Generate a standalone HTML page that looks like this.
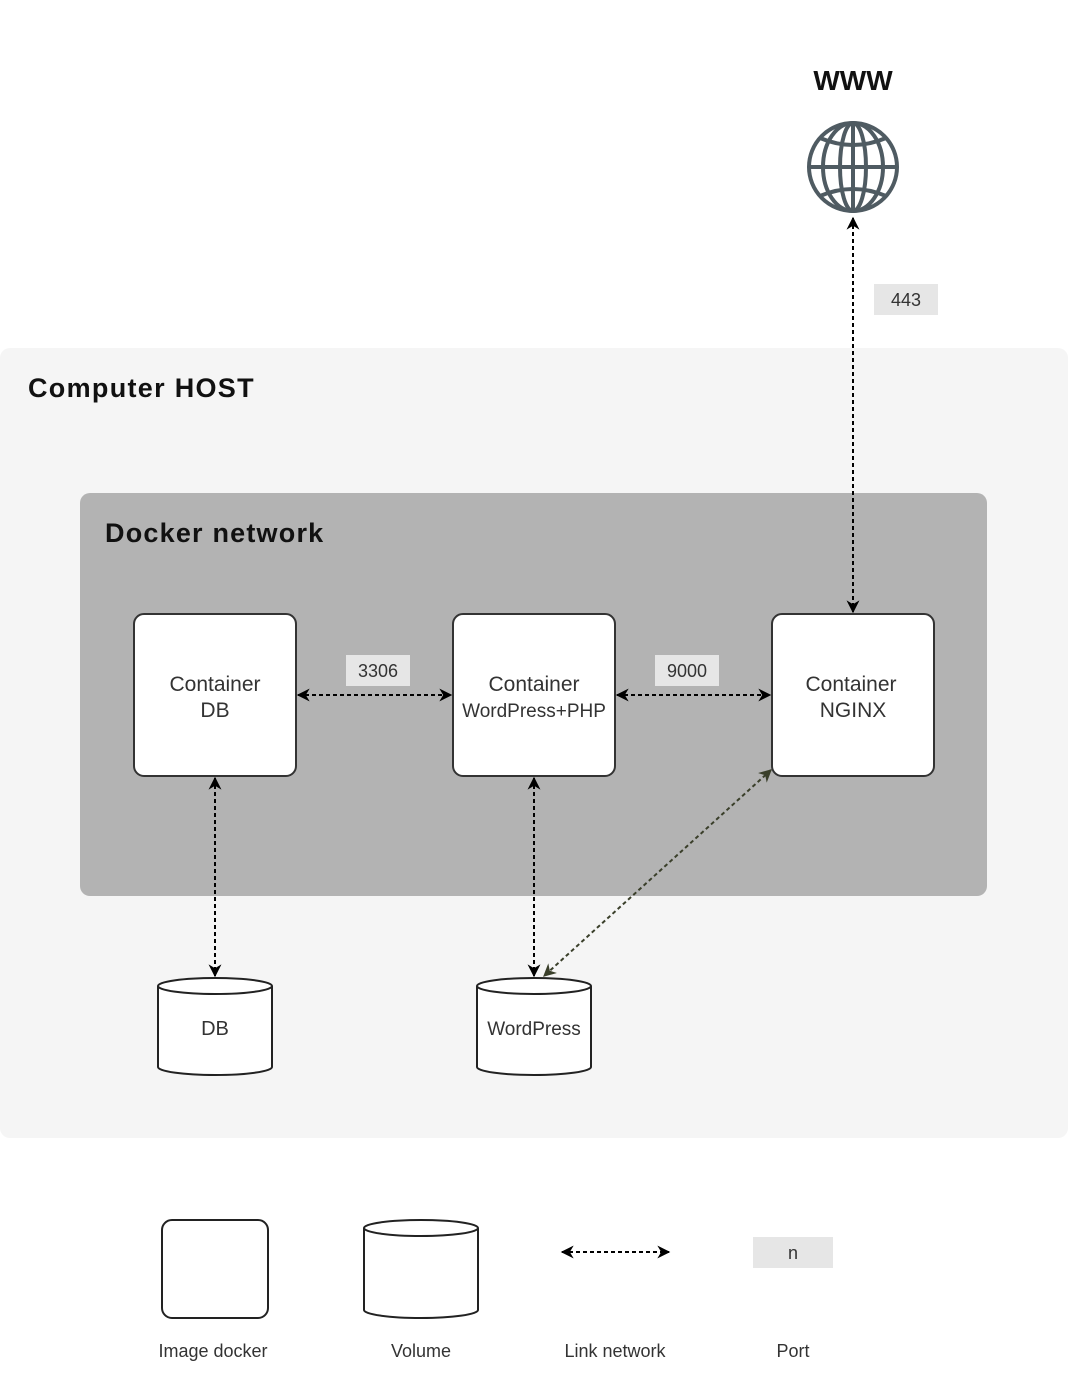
<!DOCTYPE html>
<html><head><meta charset="utf-8"><style>
html,body{margin:0;padding:0;background:#fff}
svg{display:block}
text{font-family:"Liberation Sans",sans-serif}
</style></head><body>
<svg width="1080" height="1392" viewBox="0 0 1080 1392" xmlns="http://www.w3.org/2000/svg">
<defs>
<marker id="a" viewBox="0 0 10 10" refX="9" refY="5" markerWidth="13" markerHeight="13" orient="auto-start-reverse" markerUnits="userSpaceOnUse">
<path d="M0,0 L10,5 L0,10 L3,5 z" fill="#000"/></marker>
<marker id="g" viewBox="0 0 10 10" refX="9" refY="5" markerWidth="13" markerHeight="13" orient="auto-start-reverse" markerUnits="userSpaceOnUse">
<path d="M0,0 L10,5 L0,10 L3,5 z" fill="#3a3f2a"/></marker>
</defs>
<rect width="1080" height="1392" fill="#fff"/>
<rect x="0" y="348" width="1068" height="790" rx="10" fill="#f5f5f5"/>
<text x="28" y="397" font-size="27" font-weight="bold" letter-spacing="1.3" fill="#111">Computer HOST</text>
<rect x="80" y="493" width="907" height="403" rx="10" fill="#b3b3b3"/>
<text x="105" y="542" font-size="27" font-weight="bold" letter-spacing="1.2" fill="#111">Docker network</text>

<text x="853" y="90" font-size="28" font-weight="bold" text-anchor="middle" fill="#111">WWW</text>
<g fill="none" stroke="#4f5b62" stroke-width="4">
<circle cx="853" cy="167" r="44"/>
<ellipse cx="853" cy="167" rx="30" ry="44"/>
<ellipse cx="853" cy="167" rx="13" ry="44"/>
<line x1="853" y1="123" x2="853" y2="211"/>
<line x1="809" y1="167" x2="897" y2="167"/>
<path d="M820,138 Q853,152 886,138"/>
<path d="M820,196 Q853,182 886,196"/>
</g>

<g stroke="#000" stroke-width="2" fill="none" stroke-dasharray="4,3">
<line x1="853" y1="218" x2="853" y2="612" marker-start="url(#a)" marker-end="url(#a)"/>
<line x1="298" y1="695" x2="451" y2="695" marker-start="url(#a)" marker-end="url(#a)"/>
<line x1="617" y1="695" x2="770" y2="695" marker-start="url(#a)" marker-end="url(#a)"/>
<line x1="215" y1="778" x2="215" y2="976" marker-start="url(#a)" marker-end="url(#a)"/>
<line x1="534" y1="778" x2="534" y2="976" marker-start="url(#a)" marker-end="url(#a)"/>
<line x1="771" y1="770" x2="544" y2="976" stroke="#3a3f2a" marker-start="url(#g)" marker-end="url(#g)"/>
</g>

<rect x="874" y="284" width="64" height="31" fill="#e6e6e6"/>
<text x="906" y="306" font-size="18" text-anchor="middle" fill="#333">443</text>
<rect x="346" y="655" width="64" height="31" fill="#e6e6e6"/>
<text x="378" y="677" font-size="18" text-anchor="middle" fill="#333">3306</text>
<rect x="655" y="655" width="64" height="31" fill="#e6e6e6"/>
<text x="687" y="677" font-size="18" text-anchor="middle" fill="#333">9000</text>

<g fill="#fff" stroke="#333" stroke-width="2">
<rect x="134" y="614" width="162" height="162" rx="10"/>
<rect x="453" y="614" width="162" height="162" rx="10"/>
<rect x="772" y="614" width="162" height="162" rx="10"/>
</g>
<g font-size="21" fill="#333" text-anchor="middle">
<text x="215" y="691">Container</text><text x="215" y="717">DB</text>
<text x="534" y="691">Container</text><text x="534" y="717" font-size="19">WordPress+PHP</text>
<text x="851" y="691">Container</text><text x="853" y="717">NGINX</text>
</g>

<g fill="#fff" stroke="#222" stroke-width="2">
<path d="M158,986 A57,8 0 0 1 272,986 L272,1067 A57,8 0 0 1 158,1067 Z"/>
<path d="M158,986 A57,8 0 0 0 272,986"/>
<path d="M477,986 A57,8 0 0 1 591,986 L591,1067 A57,8 0 0 1 477,1067 Z"/>
<path d="M477,986 A57,8 0 0 0 591,986"/>
</g>
<text x="215" y="1035" font-size="20" text-anchor="middle" fill="#333">DB</text>
<text x="534" y="1035" font-size="19" text-anchor="middle" fill="#333">WordPress</text>

<rect x="162" y="1220" width="106" height="98" rx="10" fill="#fff" stroke="#222" stroke-width="2"/>
<g fill="#fff" stroke="#222" stroke-width="2">
<path d="M364,1228 A57,8 0 0 1 478,1228 L478,1310 A57,8 0 0 1 364,1310 Z"/>
<path d="M364,1228 A57,8 0 0 0 478,1228"/>
</g>
<line x1="562" y1="1252" x2="669" y2="1252" stroke="#000" stroke-width="2" stroke-dasharray="4,3" marker-start="url(#a)" marker-end="url(#a)"/>
<rect x="753" y="1237" width="80" height="31" fill="#e6e6e6"/>
<text x="793" y="1259" font-size="18" text-anchor="middle" fill="#333">n</text>
<g font-size="18" fill="#333" text-anchor="middle">
<text x="213" y="1357">Image docker</text>
<text x="421" y="1357">Volume</text>
<text x="615" y="1357">Link network</text>
<text x="793" y="1357">Port</text>
</g>
</svg>
</body></html>
